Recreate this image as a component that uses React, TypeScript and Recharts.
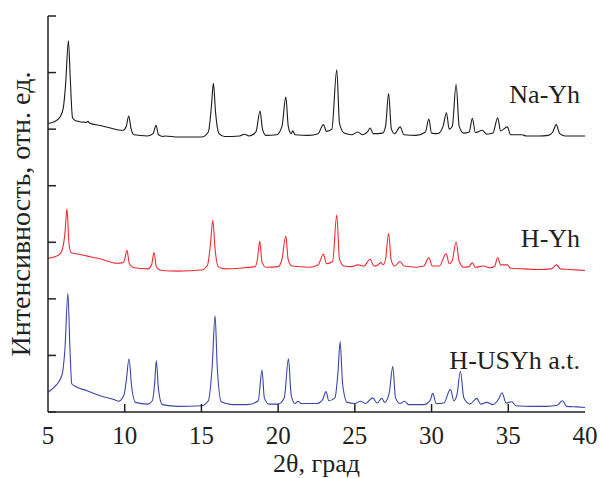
import React from "react";
import { LineChart, Line, XAxis, YAxis, ReferenceDot } from "recharts";

// 2θ (deg) / intensity (arb. units, offset per pattern)
const naYh: [number, number][] = [
  [5.0, 5.1], [5.4, 5.13], [5.8, 5.22], [6.0, 5.38], [6.15, 5.8], [6.33, 6.56], [6.45, 5.9], [6.6, 5.2],
  [6.8, 5.15], [7.5, 5.12], [7.6, 5.14], [7.7, 5.11], [8.5, 5.06], [9.5, 4.99], [9.9, 4.98], [10.1, 5.05],
  [10.26, 5.23], [10.42, 5.0], [10.6, 4.9], [11.5, 4.88], [11.85, 4.92], [12.04, 5.07], [12.2, 4.9],
  [12.5, 4.87], [12.6, 4.88], [13.5, 4.86], [15.0, 4.86], [15.45, 4.95], [15.65, 5.4], [15.78, 5.81],
  [15.92, 5.3], [16.15, 4.92], [16.5, 4.87], [17.5, 4.88], [17.8, 4.91], [18.1, 4.88], [18.55, 4.95],
  [18.82, 5.32], [18.98, 5.0], [19.2, 4.89], [19.9, 4.9], [20.25, 5.05], [20.5, 5.57], [20.66, 5.05],
  [20.85, 4.92], [20.95, 4.97], [21.1, 4.9], [22.0, 4.89], [22.6, 4.92], [22.95, 5.08], [23.15, 4.96],
  [23.5, 5.0], [23.82, 6.05], [24.0, 5.1], [24.3, 4.93], [24.8, 4.9], [25.19, 4.95], [25.5, 4.9],
  [25.85, 4.96], [25.99, 5.02], [26.2, 4.92], [26.8, 4.93], [27.0, 5.05], [27.2, 5.63], [27.38, 5.0],
  [27.6, 4.92], [27.95, 5.04], [28.2, 4.9], [29.0, 4.89], [29.6, 4.95], [29.82, 5.18], [30.0, 4.93],
  [30.4, 4.92], [30.75, 5.05], [30.97, 5.29], [31.15, 5.0], [31.35, 5.05], [31.6, 5.79], [31.8, 5.05],
  [32.1, 4.93], [32.45, 4.95], [32.66, 5.19], [32.85, 4.94], [33.3, 4.98], [33.6, 4.91], [34.0, 4.93],
  [34.31, 5.2], [34.5, 4.97], [34.94, 5.04], [35.15, 4.9], [35.88, 4.9], [36.2, 4.88], [37.0, 4.88],
  [37.6, 4.89], [37.9, 4.95], [38.12, 5.08], [38.35, 4.92], [38.7, 4.88], [40.0, 4.88],
];

const hYh: [number, number][] = [
  [5.0, 2.72], [5.4, 2.74], [5.8, 2.8], [6.0, 2.95], [6.1, 3.15], [6.24, 3.59], [6.36, 3.0], [6.5, 2.82],
  [7.0, 2.79], [7.5, 2.76], [8.5, 2.7], [9.5, 2.63], [9.9, 2.64], [10.0, 2.7], [10.15, 2.86], [10.3, 2.62],
  [10.6, 2.55], [11.5, 2.53], [11.75, 2.6], [11.91, 2.82], [12.07, 2.56], [12.4, 2.5], [13.5, 2.49],
  [15.0, 2.51], [15.4, 2.6], [15.6, 3.0], [15.74, 3.39], [15.9, 2.85], [16.1, 2.57], [16.5, 2.53],
  [17.5, 2.54], [17.8, 2.55], [18.5, 2.57], [18.65, 2.7], [18.8, 3.02], [18.95, 2.65], [19.2, 2.56],
  [20.0, 2.57], [20.25, 2.7], [20.5, 3.11], [20.65, 2.7], [20.9, 2.58], [22.0, 2.56], [22.6, 2.6],
  [22.95, 2.79], [23.15, 2.62], [23.55, 2.66], [23.82, 3.48], [24.0, 2.7], [24.3, 2.58], [24.8, 2.57],
  [25.2, 2.6], [25.6, 2.58], [25.99, 2.7], [26.25, 2.58], [26.5, 2.6], [26.7, 2.64], [26.85, 2.6],
  [27.0, 2.7], [27.2, 3.16], [27.37, 2.68], [27.6, 2.58], [27.95, 2.66], [28.2, 2.58], [29.0, 2.56],
  [29.5, 2.58], [29.82, 2.73], [30.05, 2.58], [30.5, 2.58], [30.95, 2.8], [31.15, 2.62], [31.35, 2.68],
  [31.6, 3.01], [31.8, 2.66], [32.1, 2.56], [32.45, 2.57], [32.66, 2.64], [32.85, 2.56], [33.4, 2.58],
  [33.8, 2.55], [34.1, 2.57], [34.31, 2.73], [34.5, 2.6], [34.94, 2.6], [35.15, 2.54], [36.0, 2.53],
  [37.0, 2.52], [37.8, 2.53], [38.15, 2.6], [38.4, 2.53], [39.0, 2.52], [40.0, 2.5],
];

const hUsyh: [number, number][] = [
  [5.0, 0.35], [5.4, 0.44], [5.78, 0.57], [5.95, 0.7], [6.1, 1.1], [6.3, 2.1], [6.42, 1.2], [6.55, 0.5],
  [6.8, 0.45], [7.5, 0.38], [8.5, 0.28], [9.3, 0.22], [9.6, 0.19], [9.95, 0.3], [10.1, 0.55], [10.28, 0.94],
  [10.45, 0.45], [10.7, 0.17], [11.5, 0.14], [11.8, 0.2], [11.95, 0.5], [12.06, 0.91], [12.2, 0.4],
  [12.45, 0.13], [13.5, 0.1], [15.0, 0.11], [15.45, 0.2], [15.7, 0.8], [15.89, 1.7], [16.03, 0.8],
  [16.3, 0.18], [17.0, 0.13], [18.0, 0.13], [18.7, 0.2], [18.95, 0.74], [19.1, 0.25], [19.4, 0.14],
  [20.0, 0.14], [20.4, 0.25], [20.67, 0.94], [20.85, 0.3], [21.1, 0.15], [21.3, 0.19], [21.5, 0.15],
  [22.5, 0.15], [22.9, 0.22], [23.12, 0.36], [23.3, 0.2], [23.7, 0.25], [23.9, 0.7], [24.04, 1.24],
  [24.2, 0.5], [24.5, 0.17], [25.0, 0.15], [25.38, 0.19], [25.7, 0.15], [26.16, 0.25], [26.45, 0.16],
  [26.75, 0.24], [26.95, 0.17], [27.25, 0.35], [27.47, 0.81], [27.65, 0.25], [27.95, 0.15], [28.23, 0.19],
  [28.5, 0.13], [29.5, 0.13], [29.9, 0.2], [30.08, 0.33], [30.3, 0.15], [30.8, 0.16], [31.23, 0.4],
  [31.45, 0.2], [31.65, 0.3], [31.88, 0.72], [32.1, 0.25], [32.5, 0.14], [32.95, 0.24], [33.2, 0.14],
  [33.6, 0.17], [34.0, 0.13], [34.35, 0.22], [34.6, 0.34], [34.85, 0.16], [35.23, 0.18], [35.5, 0.11],
  [36.5, 0.1], [37.5, 0.1], [38.2, 0.12], [38.53, 0.2], [38.8, 0.1], [39.5, 0.09], [40.0, 0.08],
];

const xTicks = [5, 10, 15, 20, 25, 30, 35, 40];
const yTicks = [0, 1, 2, 3, 4, 5, 6, 7];

// label anchors (right edge of text, vertical centre)
const seriesLabels = [
  { name: "Na-Yh", x: 39.68, y: 5.63 },
  { name: "H-Yh", x: 39.68, y: 3.08 },
  { name: "H-USYh a.t.", x: 39.68, y: 0.93 },
];

const FONT = '"Liberation Serif", "Times New Roman", serif';
const INK = "#231f20";
const TICK_LEN = 8;
const X_GAP = 14;

const toRows = (pts: [number, number][]) => pts.map(([x, y]) => ({ x, y }));

// inward tick mark + label below the axis
function XTick({ x, y, payload }: any) {
  const axisY = y - X_GAP;
  const showMark = payload.value !== 5 && payload.value !== 40;
  return (
    <g>
      {showMark && (
        <line x1={x} x2={x} y1={axisY} y2={axisY - TICK_LEN} stroke={INK} strokeWidth={1.5} />
      )}
      <text x={x} y={y + 18} textAnchor="middle" fill={INK} fontSize={25} fontFamily={FONT}>
        {payload.value}
      </text>
    </g>
  );
}

// inward tick mark only, no label
function YTick({ x, y }: any) {
  return <line x1={x} x2={x + TICK_LEN} y1={y} y2={y} stroke={INK} strokeWidth={1.5} />;
}

export default function App() {
  return (
    <div style={{ position: "absolute", left: 0, top: 0, background: "#fff" }}>
      <LineChart
        width={601}
        height={478}
        margin={{ top: 16, right: 16, left: 0, bottom: 0 }}
      >
        <XAxis
          type="number"
          dataKey="x"
          domain={[5, 40]}
          ticks={xTicks}
          height={66}
          stroke={INK}
          strokeWidth={1.5}
          tickLine={false}
          tickSize={0}
          tickMargin={X_GAP}
          tick={<XTick />}
          label={{
            content: ({ viewBox }: any) => (
              <text
                x={viewBox.x + viewBox.width / 2}
                y={viewBox.y + 60}
                textAnchor="middle"
                fill={INK}
                fontSize={26}
                fontFamily={FONT}
              >
                2θ, град
              </text>
            ),
          }}
        />
        <YAxis
          type="number"
          domain={[0, 7]}
          ticks={yTicks}
          width={48}
          stroke={INK}
          strokeWidth={1.5}
          tickLine={false}
          tickSize={0}
          tickMargin={0}
          tick={<YTick />}
          label={{
            content: ({ viewBox }: any) => (
              <text
                x={20}
                y={viewBox.y + viewBox.height / 2}
                transform={`rotate(-90, 20, ${viewBox.y + viewBox.height / 2})`}
                textAnchor="middle"
                dominantBaseline="central"
                fill={INK}
                fontSize={28}
                fontFamily={FONT}
              >
                Интенсивность, отн. ед.
              </text>
            ),
          }}
        />
        <Line
          data={toRows(naYh)}
          dataKey="y"
          type="monotone"
          stroke="#1a1a1a"
          strokeWidth={1.1}
          dot={false}
          isAnimationActive={false}
        />
        <Line
          data={toRows(hYh)}
          dataKey="y"
          type="monotone"
          stroke="#ee2b35"
          strokeWidth={1.1}
          dot={false}
          isAnimationActive={false}
        />
        <Line
          data={toRows(hUsyh)}
          dataKey="y"
          type="monotone"
          stroke="#3b46a6"
          strokeWidth={1.1}
          dot={false}
          isAnimationActive={false}
        />
        {seriesLabels.map((s) => (
          <ReferenceDot
            key={s.name}
            x={s.x}
            y={s.y}
            r={0}
            stroke="none"
            fill="none"
            label={{
              value: s.name,
              position: "left",
              offset: 0,
              fill: INK,
              fontSize: 26,
              fontFamily: FONT,
            }}
          />
        ))}
      </LineChart>
    </div>
  );
}
